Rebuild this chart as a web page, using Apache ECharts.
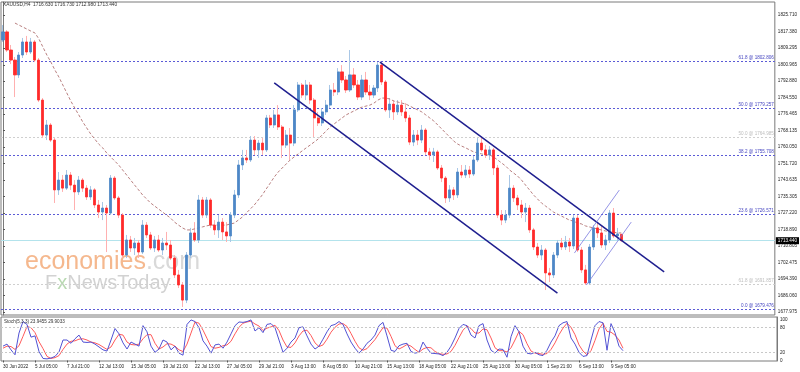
<!DOCTYPE html>
<html><head><meta charset="utf-8">
<script src="https://cdn.jsdelivr.net/npm/echarts@6/dist/echarts.min.js"></script>
<style>html,body{margin:0;padding:0;background:#fff}#c{width:800px;height:372px}</style>
</head><body><div id="c"></div><script>
const tickLabels = ["30 Jun 2022","5 Jul 05:00","7 Jul 21:00","12 Jul 13:00","15 Jul 05:00","19 Jul 21:00","22 Jul 13:00","27 Jul 05:00","29 Jul 21:00","3 Aug 13:00","8 Aug 05:00","10 Aug 21:00","15 Aug 13:00","18 Aug 05:00","22 Aug 21:00","25 Aug 13:00","30 Aug 05:00","1 Sep 21:00","6 Sep 13:00","9 Sep 05:00"];
const yTickValues = [1825.710,1817.380,1809.295,1800.965,1792.880,1784.550,1776.465,1768.135,1760.050,1751.720,1743.635,1735.305,1727.220,1718.890,1710.805,1702.475,1694.390,1686.060,1677.975];
const stochTicks = [0,20,80,100];

const opens = [1813.3,1817.3,1808.3,1803.3,1795.9,1805.8,1812.3,1807.3,1812.3,1803.3,
1783.4,1766.0,1771.0,1763.5,1738.7,1743.6,1739.6,1746.1,1741.1,1737.7,
1743.6,1739.6,1735.2,1738.7,1731.2,1727.7,1729.7,1727.2,1744.6,1734.7,
1726.2,1706.3,1713.8,1709.8,1712.3,1707.8,1721.2,1716.3,1709.8,1713.8,
1708.8,1712.3,1711.3,1704.8,1696.4,1691.4,1683.9,1706.3,1717.3,1713.8,
1733.7,1726.2,1733.7,1721.2,1718.8,1722.7,1717.8,1715.8,1726.2,1736.2,
1751.1,1754.6,1753.6,1763.5,1758.6,1762.0,1758.6,1774.5,1771.0,1776.0,
1770.0,1761.0,1766.0,1762.0,1778.5,1790.9,1785.9,1790.9,1783.4,1774.5,
1772.0,1777.5,1780.9,1788.4,1787.4,1797.4,1793.4,1788.4,1795.9,1790.9,
1784.9,1793.4,1787.4,1785.9,1789.4,1800.8,1792.4,1778.5,1781.4,1777.5,
1780.9,1777.5,1774.5,1762.5,1766.0,1763.5,1768.5,1757.6,1756.1,1757.6,
1749.6,1744.6,1734.7,1738.7,1736.2,1747.6,1746.1,1748.6,1746.6,1753.6,
1762.0,1758.6,1756.1,1758.6,1749.6,1726.2,1723.7,1726.2,1739.6,1734.7,
1731.2,1727.7,1729.7,1718.8,1710.3,1706.3,1708.8,1697.4,1696.4,1706.3,
1712.3,1710.3,1712.8,1710.8,1724.7,1708.8,1698.9,1692.4,1710.3,1719.8,
1717.3,1711.3,1713.8,1727.2,1715.8,1716.63];
const closes = [1817.3,1808.3,1803.3,1795.9,1805.8,1812.3,1807.3,1812.3,1803.3,1783.4,
1766.0,1771.0,1763.5,1738.7,1743.6,1739.6,1746.1,1741.1,1737.7,1743.6,
1739.6,1735.2,1738.7,1731.2,1727.7,1729.7,1727.2,1744.6,1734.7,1726.2,
1706.3,1713.8,1709.8,1712.3,1707.8,1721.2,1716.3,1709.8,1713.8,1708.8,
1712.3,1711.3,1704.8,1696.4,1691.4,1683.9,1706.3,1717.3,1713.8,1733.7,
1726.2,1733.7,1721.2,1718.8,1722.7,1717.8,1715.8,1726.2,1736.2,1751.1,
1754.6,1753.6,1763.5,1758.6,1762.0,1758.6,1774.5,1771.0,1776.0,1770.0,
1761.0,1766.0,1762.0,1778.5,1790.9,1785.9,1790.9,1783.4,1774.5,1772.0,
1777.5,1780.9,1788.4,1787.4,1797.4,1793.4,1788.4,1795.9,1790.9,1784.9,
1793.4,1787.4,1785.9,1789.4,1800.8,1792.4,1778.5,1781.4,1777.5,1780.9,
1777.5,1774.5,1762.5,1766.0,1763.5,1768.5,1757.6,1756.1,1757.6,1749.6,
1744.6,1734.7,1738.7,1736.2,1747.6,1746.1,1748.6,1746.6,1753.6,1762.0,
1758.6,1756.1,1758.6,1749.6,1726.2,1723.7,1726.2,1739.6,1734.7,1731.2,
1727.7,1729.7,1718.8,1710.3,1706.3,1708.8,1697.4,1696.4,1706.3,1712.3,
1710.3,1712.8,1710.8,1724.7,1708.8,1698.9,1692.4,1710.3,1719.8,1717.3,
1711.3,1713.8,1727.2,1715.8,1716.8,1713.44];
const lows = [1812.3,1807.3,1801.3,1784.9,1794.4,1804.3,1805.8,1806.3,1802.3,1782.4,
1764.5,1763.5,1762.5,1732.2,1736.2,1737.7,1738.7,1738.7,1728.7,1736.2,
1737.7,1733.7,1733.7,1729.7,1724.7,1723.7,1707.8,1726.2,1733.7,1724.7,
1704.8,1704.8,1707.8,1706.3,1704.8,1706.8,1714.8,1708.8,1707.8,1707.8,
1706.3,1708.8,1703.8,1694.9,1689.9,1680.5,1682.4,1704.8,1712.8,1712.3,
1724.7,1724.7,1719.8,1716.3,1714.8,1713.8,1712.8,1712.8,1724.7,1734.7,
1748.6,1752.1,1752.6,1756.1,1754.6,1756.1,1757.6,1769.5,1769.5,1768.5,
1754.6,1759.6,1753.6,1760.5,1777.5,1784.4,1783.4,1781.4,1765.0,1770.5,
1770.5,1776.0,1779.4,1785.4,1785.9,1791.9,1786.9,1787.4,1789.4,1783.4,
1783.4,1785.9,1783.4,1784.4,1787.4,1790.9,1777.5,1774.5,1773.5,1776.0,
1775.5,1772.5,1761.0,1760.5,1761.0,1762.0,1756.1,1753.6,1752.6,1748.6,
1742.6,1732.2,1732.7,1733.7,1734.7,1744.6,1744.6,1744.6,1745.6,1752.6,
1757.6,1754.6,1753.6,1746.1,1724.7,1721.2,1722.2,1724.7,1732.7,1728.7,
1724.7,1722.7,1717.3,1708.8,1704.8,1703.8,1688.9,1692.9,1694.9,1704.8,
1708.8,1708.8,1707.8,1709.3,1707.8,1697.4,1691.4,1691.4,1708.8,1714.8,
1709.8,1708.8,1712.3,1714.8,1713.8,1712.98];
const highs = [1820.7,1818.2,1810.8,1804.8,1807.3,1814.3,1815.3,1814.3,1813.3,1804.3,
1784.4,1773.5,1772.0,1764.5,1747.6,1746.1,1748.6,1747.6,1743.6,1745.6,
1744.6,1741.1,1740.6,1739.6,1733.7,1732.7,1731.2,1746.1,1745.6,1735.7,
1727.2,1716.3,1715.8,1714.8,1713.8,1723.7,1722.7,1717.8,1715.8,1716.3,
1714.8,1717.8,1713.8,1706.3,1698.9,1692.9,1707.8,1719.8,1722.7,1736.2,
1735.2,1735.2,1734.7,1723.7,1726.2,1724.7,1722.7,1727.7,1738.7,1753.6,
1758.6,1758.6,1765.5,1765.5,1763.5,1764.5,1776.0,1776.0,1778.5,1780.9,
1771.0,1768.5,1769.5,1780.9,1792.4,1791.9,1793.4,1792.4,1784.4,1777.5,
1779.4,1783.4,1790.9,1791.9,1799.3,1800.8,1795.4,1808.3,1799.3,1793.4,
1795.9,1797.4,1790.9,1790.9,1802.3,1802.3,1793.4,1784.4,1783.4,1783.4,
1783.4,1781.9,1776.0,1768.5,1768.5,1771.0,1769.5,1759.6,1759.6,1758.6,
1751.1,1745.6,1741.1,1740.1,1749.6,1751.1,1751.1,1750.6,1755.6,1764.5,
1765.5,1761.0,1760.5,1759.6,1751.1,1728.7,1728.7,1746.1,1741.1,1736.2,
1733.7,1732.2,1731.2,1719.8,1712.3,1711.3,1709.8,1699.9,1707.8,1713.8,
1714.8,1715.8,1714.8,1726.2,1726.2,1710.3,1701.4,1711.8,1721.2,1722.7,
1720.8,1716.3,1728.7,1729.7,1719.8,1716.73];
const maValues = [null,null,null,1821.7,1820.7,1819.7,1818.7,1817.7,1816.8,1813.8,
1809.8,1805.8,1802.3,1798.4,1794.9,1790.9,1786.9,1782.9,1779.4,1776.0,
1772.5,1769.5,1766.5,1764.0,1761.5,1759.6,1757.1,1755.1,1753.1,1751.1,
1748.6,1746.1,1743.6,1741.1,1738.7,1736.2,1734.2,1732.2,1730.7,1729.2,
1727.7,1726.2,1724.7,1722.7,1721.2,1719.8,1718.8,1718.8,1719.3,1719.8,
1720.3,1720.8,1721.2,1721.2,1721.2,1721.2,1721.2,1721.8,1722.2,1723.7,
1725.2,1727.2,1729.2,1731.2,1733.7,1736.2,1739.2,1742.1,1745.1,1747.6,
1749.6,1751.6,1753.6,1755.1,1756.6,1758.1,1759.6,1761.0,1762.5,1764.0,
1766.0,1768.0,1770.0,1771.5,1773.0,1774.5,1776.0,1777.0,1778.0,1779.0,
1779.9,1780.4,1780.9,1781.9,1783.4,1784.4,1784.4,1783.9,1782.9,1782.4,
1781.9,1781.4,1780.4,1779.4,1778.5,1777.5,1776.0,1774.5,1773.0,1771.0,
1769.0,1767.0,1765.0,1763.0,1761.5,1760.5,1759.6,1758.6,1757.6,1757.1,
1756.6,1756.1,1756.1,1755.1,1753.6,1752.1,1750.6,1748.6,1747.1,1745.6,
1743.6,1741.1,1738.7,1736.2,1734.2,1732.2,1730.7,1729.2,1727.7,1726.7,
1725.7,1724.7,1723.7,1723.2,1722.2,1721.8,1720.8,1720.3,1719.8,1719.3,
1718.8,1718.3,1717.8,1717.8,1717.3,1717.3];
const stochK = [35,40,26,14,67,95,88,57,60,22,
5,4,6,10,21,50,50,42,53,62,
45,44,45,40,33,26,23,50,78,65,
43,28,45,40,35,85,70,35,20,28,
50,45,26,35,18,13,88,99,95,80,
48,35,18,38,40,30,45,65,85,94,
93,95,99,72,80,68,88,90,80,50,
20,30,45,55,80,82,60,40,28,35,
52,70,85,88,95,88,65,45,30,18,
28,42,50,62,85,93,60,25,22,36,
40,42,22,18,20,45,30,18,17,16,
12,20,35,55,78,88,85,62,55,85,
90,50,25,18,28,27,8,58,85,70,
35,18,16,20,14,12,25,45,60,85,
92,95,55,40,20,10,12,50,85,95,
92,25,90,68,35,23.9455];
const stochD = [30,35,34,27,36,59,83,80,68,46,
29,10,5,7,12,27,40,47,48,52,
53,50,45,43,39,33,27,33,50,64,
62,45,39,38,40,53,63,63,42,28,
33,41,40,35,26,22,40,67,94,91,
74,54,34,30,32,36,38,47,65,81,
91,94,96,89,84,73,79,82,86,73,
50,33,32,43,60,72,74,61,43,34,
38,52,69,81,89,90,83,66,47,31,
25,29,40,51,66,80,79,59,36,28,
33,39,35,27,20,28,32,31,22,17,
15,16,22,37,56,74,84,78,67,67,
77,75,55,31,24,24,21,31,50,71,
63,41,23,18,17,15,17,27,43,63,
79,91,81,63,38,23,14,24,49,77,
91,71,69,62,50,29.9033];
const fibBlueLevels = [1802.806,1779.257,1755.708,1726.571,1679.476];
const fibBlueNames = ["61.8","50.0","38.2","23.6","0.0"];
const fibGreyLevels = [1764.985,1691.857];
const fibGreyNames = ["50.0","61.8"];
const lastPrice = 1713.440;
const channelUpper = [[94.5,1802.3],[165.75,1697.9]];
const channelLower = [[68,1791.9],[139,1687.4]];
const smallLower = [[146.25,1691.4],[157.5,1722.7]];
const smallUpper = [[143.25,1707.3],[154.5,1738.6]];

const N_CATS = 194;
const cats = Array.from({length:N_CATS},(_,i)=>String(i));
const wickData = opens.map((o,i)=>[o,closes[i],lows[i],highs[i]]);
const bodyData = opens.map((o,i)=>[o,closes[i],Math.min(o,closes[i]),Math.max(o,closes[i])]);
const FONT = 'Liberation Sans';
const FS = 4.6;

const fibData = [];
fibBlueLevels.forEach((v,k)=>fibData.push({yAxis:v,
  lineStyle:{color:'#5b5bd6',type:[2,2],width:1},
  label:{show:true,position:'insideEndTop',distance:1,formatter:fibBlueNames[k]+' @ '+v.toFixed(3),color:'#4646c0',fontSize:FS,fontFamily:FONT}}));
fibGreyLevels.forEach((v,k)=>fibData.push({yAxis:v,
  lineStyle:{color:'#cfcfcf',type:[2,2],width:1},
  label:{show:true,position:'insideEndTop',distance:1,formatter:fibGreyNames[k]+' @ '+v.toFixed(3),color:'#bdbdbd',fontSize:FS,fontFamily:FONT}}));
fibData.push({yAxis:lastPrice,lineStyle:{color:'#b3e3ec',type:'solid',width:1},
  label:{show:true,position:'end',distance:1,formatter:lastPrice.toFixed(3),color:'#fff',backgroundColor:'#000',padding:[1,2],fontSize:FS,fontFamily:FONT}});

const chart = echarts.init(document.getElementById('c'),null,{renderer:'canvas'});
const trend = (name,data,color,width)=>({name,type:'line',xAxisIndex:2,yAxisIndex:0,data,symbol:'none',silent:true,z:5,lineStyle:{color,width}});
chart.setOption({
  animation:false,
  backgroundColor:'#ffffff',
  textStyle:{fontFamily:FONT},
  grid:[
    {left:1,top:2,width:776,height:313,show:true,borderColor:'#7a7a7a',borderWidth:1,backgroundColor:'transparent'},
    {left:1,top:317,width:776,height:44,show:true,borderColor:'#7a7a7a',borderWidth:1,backgroundColor:'transparent'}
  ],
  xAxis:[
    {type:'category',gridIndex:0,data:cats,boundaryGap:true,axisLine:{show:false},axisTick:{show:false},axisLabel:{show:false},splitLine:{show:false}},
    {type:'category',gridIndex:1,data:cats,boundaryGap:true,axisLine:{show:false},
      axisTick:{show:true,length:2,lineStyle:{color:'#555'},alignWithLabel:true,interval:(i)=>i%8===0&&i/8<tickLabels.length},
      axisLabel:{show:true,interval:(i)=>i%8===0&&i/8<tickLabels.length,formatter:(v,i)=>tickLabels[i/8]||'',align:'left',margin:3,fontSize:FS,color:'#222',fontFamily:FONT},
      splitLine:{show:false}},
    {type:'value',gridIndex:0,min:-0.5,max:N_CATS-0.5,show:false}
  ],
  yAxis:[
    {type:'value',gridIndex:0,position:'right',min:1676.48,max:1832.18,scale:true,
      axisLine:{show:true,lineStyle:{color:'#7a7a7a'}},
      axisTick:{show:true,length:2,customValues:yTickValues,lineStyle:{color:'#555'}},
      axisLabel:{show:true,customValues:yTickValues,formatter:(v)=>v.toFixed(3),margin:3,fontSize:FS,color:'#222',fontFamily:FONT},
      splitLine:{show:false}},
    {type:'value',gridIndex:1,position:'right',min:-1.2,max:106.1,
      axisLine:{show:true,lineStyle:{color:'#7a7a7a'}},
      axisTick:{show:false},
      axisLabel:{show:true,customValues:stochTicks,formatter:(v)=>String(Math.round(v)),margin:3,fontSize:FS,color:'#222',fontFamily:FONT},
      splitLine:{show:false}}
  ],
  graphic:[
    {type:'text',left:3,top:2,z:10,style:{text:'XAUUSD,H4  1716.630 1716.730 1712.980 1713.440',fontSize:4.8,fill:'#333',fontFamily:FONT}},
    {type:'text',left:4,top:319,z:10,style:{text:'Stoch(5,3,3) 23.9455 29.9033',fontSize:FS,fill:'#333',fontFamily:FONT}},
    {type:'text',left:25,top:250,z:0,style:{text:'{a|economies}{b|.com}',rich:{a:{fill:'#f5b88e',fontSize:25,fontFamily:FONT},b:{fill:'#d9d9d9',fontSize:25,fontFamily:FONT}}}},
    {type:'text',left:45,top:273,z:0,style:{text:'F{g|x}NewsToday',fill:'#d2d2d2',fontSize:20,fontFamily:FONT,rich:{g:{fill:'#b9d9b2',fontSize:20,fontFamily:FONT}}}}
  ],
  series:[
    {name:'wick',type:'candlestick',xAxisIndex:0,yAxisIndex:0,data:wickData,barWidth:1,z:3,silent:true,
      itemStyle:{color:'#a9c7e6',color0:'#ffb0b0',borderColor:'#a9c7e6',borderColor0:'#ffb0b0',borderWidth:1},
      markLine:{silent:true,symbol:['none','none'],data:fibData,z:1}},
    {name:'body',type:'candlestick',xAxisIndex:0,yAxisIndex:0,data:bodyData,barWidth:2.6,z:4,silent:true,
      itemStyle:{color:'#4d87c7',color0:'#ff2a2a',borderColor:'#4d87c7',borderColor0:'#ff2a2a',borderWidth:0.8}},
    {name:'MA',type:'line',xAxisIndex:0,yAxisIndex:0,data:maValues,symbol:'none',silent:true,z:4,
      lineStyle:{color:'#b98080',width:1,type:[3,2]}},
    trend('chanUp',channelUpper,'#1f1f8f',1.5),
    trend('chanLow',channelLower,'#1f1f8f',1.5),
    trend('smallLow',smallLower,'#7a7ae0',0.8),
    trend('smallUp',smallUpper,'#7a7ae0',0.8),
    {name:'K',type:'line',xAxisIndex:1,yAxisIndex:1,data:stochK,symbol:'none',silent:true,z:4,
      lineStyle:{color:'#5252d4',width:1},
      markLine:{silent:true,symbol:['none','none'],label:{show:false},lineStyle:{color:'#c8c8c8',type:[2,2],width:1},data:[{yAxis:80},{yAxis:20}]}},
    {name:'D',type:'line',xAxisIndex:1,yAxisIndex:1,data:stochD,symbol:'none',silent:true,z:3,
      lineStyle:{color:'#ff5a5a',width:1}}
  ]
});
</script></body></html>
